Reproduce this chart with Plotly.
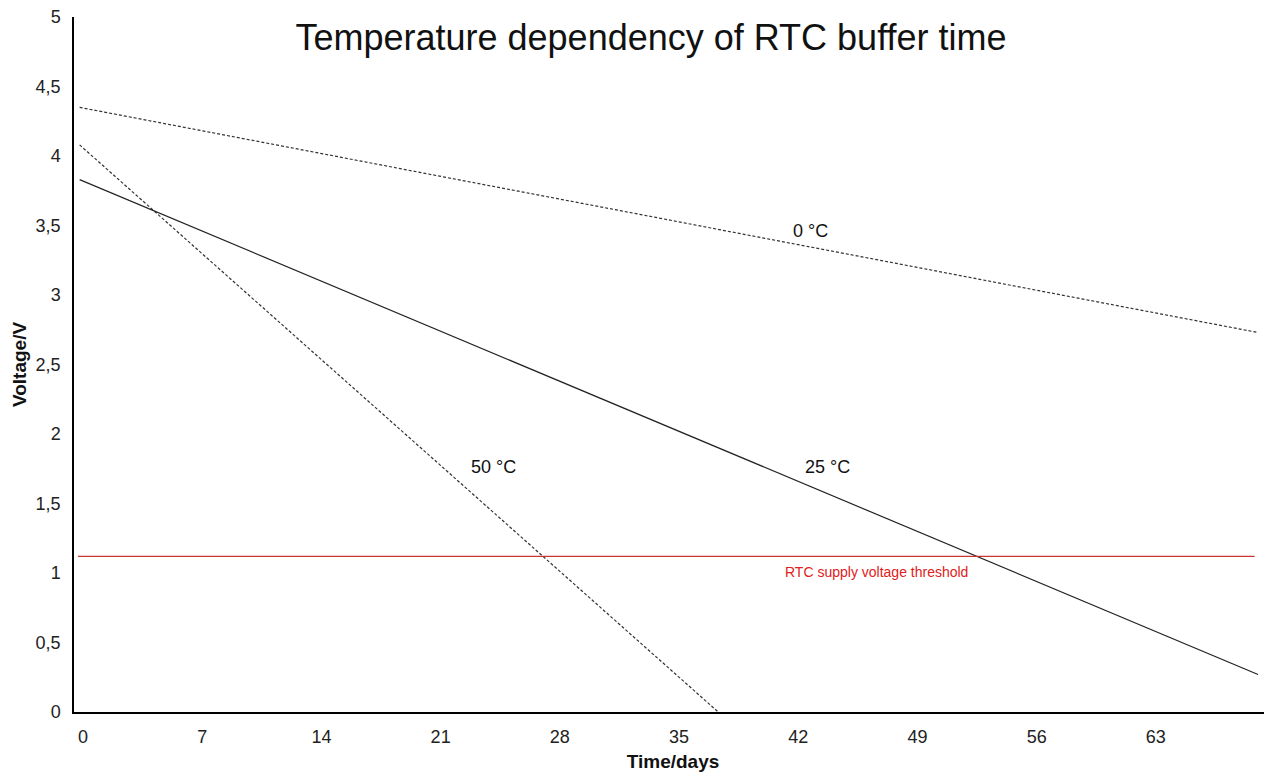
import plotly.graph_objects as go

# Data
days_0c = [-0.2, 69.0]
volts_0c = [4.35, 2.73]
days_25c = [-0.2, 69.0]
volts_25c = [3.83, 0.27]
days_50c = [-0.2, 37.3]
volts_50c = [4.08, 0.0]
threshold_days = [-0.3, 68.8]
threshold_volts = [1.12, 1.12]

x_ticks = [0, 7, 14, 21, 28, 35, 42, 49, 56, 63]
y_ticks = [0, 0.5, 1, 1.5, 2, 2.5, 3, 3.5, 4, 4.5, 5]
y_ticktext = ["0", "0,5", "1", "1,5", "2", "2,5", "3", "3,5", "4", "4,5", "5"]

labels = ["0 °C", "50 °C", "25 °C"]
label_x = [42.7, 24.1, 43.7]
label_y = [3.46, 1.76, 1.76]

fig = go.Figure()
fig.add_trace(go.Scatter(x=days_0c, y=volts_0c, mode="lines",
                         line=dict(color="#333333", width=1.2, dash="3px,2px"), showlegend=False))
fig.add_trace(go.Scatter(x=days_50c, y=volts_50c, mode="lines",
                         line=dict(color="#333333", width=1.2, dash="3px,2px"), showlegend=False))
fig.add_trace(go.Scatter(x=days_25c, y=volts_25c, mode="lines",
                         line=dict(color="#222222", width=1.2), showlegend=False))
fig.add_trace(go.Scatter(x=threshold_days, y=threshold_volts, mode="lines",
                         line=dict(color="#cc3333", width=1.3), showlegend=False))

for t, x, y in zip(labels, label_x, label_y):
    fig.add_annotation(x=x, y=y, text=t, showarrow=False,
                       font=dict(family="Liberation Sans", size=18, color="#111111"))
fig.add_annotation(x=46.6, y=1.01, text="RTC supply voltage threshold", showarrow=False,
                   font=dict(family="Liberation Sans", size=14, color="#e02020"))

fig.update_layout(
    width=1264, height=764,
    margin=dict(l=66, r=0, t=9, b=60, autoexpand=False),
    paper_bgcolor="white", plot_bgcolor="white",
    title=dict(text="Temperature dependency of RTC buffer time", x=0.5087, xanchor="center",
               y=0.962, yanchor="middle",
               font=dict(family="Liberation Sans", size=36, color="#111111")),
    font=dict(family="Liberation Sans", size=18, color="#222222"),
)
fig.update_xaxes(range=[-0.53, 69.82], tickvals=x_ticks, showgrid=False, zeroline=False,
                 showline=True, linecolor="black", linewidth=1.5, ticks="", automargin=False,
                 ticklabelstandoff=8, tickfont=dict(size=18), ticklabeloverflow="allow",
                 title=dict(text="<b>Time/days</b>", standoff=9,
                            font=dict(family="Liberation Sans", size=19, color="#111111")))
fig.update_yaxes(range=[0, 5], tickvals=y_ticks, ticktext=y_ticktext, showgrid=False,
                 zeroline=False, showline=True, linecolor="black", linewidth=1.5, ticks="",
                 automargin=False, ticklabelstandoff=8, tickfont=dict(size=18),
                 ticklabeloverflow="allow",
                 title=dict(text="<b>Voltage/V</b>", standoff=4,
                            font=dict(family="Liberation Sans", size=19, color="#111111")))

fig.write_html("out.html")
